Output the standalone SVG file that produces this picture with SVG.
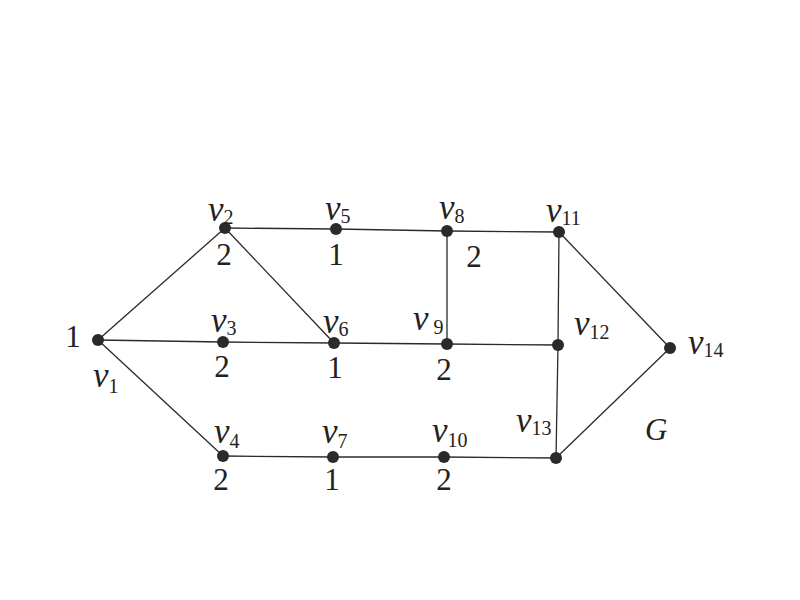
<svg xmlns="http://www.w3.org/2000/svg" width="800" height="600" viewBox="0 0 800 600">
<style>
.e{stroke:#2a2a2a;stroke-width:1.3;fill:none}
.n{fill:#2a2a2a}
.lb{font-family:"Liberation Serif","DejaVu Serif",serif;font-style:italic;font-size:35px;fill:#222}
.sb{font-size:20px;font-style:normal}
.w{font-family:"Liberation Serif","DejaVu Serif",serif;font-size:31px;fill:#222;text-anchor:middle}
</style>
<rect width="800" height="600" fill="#fff"/>
<g id="edges">
<line class="e" x1="98" y1="340" x2="225" y2="228"/>
<line class="e" x1="98" y1="340" x2="223" y2="342"/>
<line class="e" x1="98" y1="340" x2="223" y2="456"/>
<line class="e" x1="225" y1="228" x2="336" y2="229"/>
<line class="e" x1="336" y1="229" x2="447" y2="231"/>
<line class="e" x1="447" y1="231" x2="559" y2="232"/>
<line class="e" x1="225" y1="228" x2="334" y2="343"/>
<line class="e" x1="223" y1="342" x2="334" y2="343"/>
<line class="e" x1="334" y1="343" x2="447" y2="344"/>
<line class="e" x1="447" y1="344" x2="558" y2="345"/>
<line class="e" x1="447" y1="231" x2="447" y2="344"/>
<line class="e" x1="559" y1="232" x2="558" y2="345"/>
<line class="e" x1="558" y1="345" x2="556" y2="458"/>
<line class="e" x1="559" y1="232" x2="670" y2="348"/>
<line class="e" x1="556" y1="458" x2="670" y2="348"/>
<line class="e" x1="223" y1="456" x2="333" y2="457"/>
<line class="e" x1="333" y1="457" x2="444" y2="457"/>
<line class="e" x1="444" y1="457" x2="556" y2="458"/>
</g>
<g id="v1"><circle class="n" cx="98" cy="340" r="6"/><text class="w" x="73" y="347">1</text><text class="lb" x="93" y="387">v<tspan class="sb" dy="6">1</tspan></text></g>
<g id="v2"><circle class="n" cx="225" cy="228" r="6"/><text class="lb" x="208" y="221">v<tspan class="sb" dy="3">2</tspan></text><text class="w" x="224" y="265">2</text></g>
<g id="v3"><circle class="n" cx="223" cy="342" r="6"/><text class="lb" x="211" y="332">v<tspan class="sb" dy="3">3</tspan></text><text class="w" x="222" y="377">2</text></g>
<g id="v4"><circle class="n" cx="223" cy="456" r="6"/><text class="lb" x="214" y="443">v<tspan class="sb" dy="5">4</tspan></text><text class="w" x="221" y="490">2</text></g>
<g id="v5"><circle class="n" cx="336" cy="229" r="6"/><text class="lb" x="325" y="220">v<tspan class="sb" dy="3">5</tspan></text><text class="w" x="336" y="265">1</text></g>
<g id="v6"><circle class="n" cx="334" cy="343" r="6"/><text class="lb" x="323" y="333">v<tspan class="sb" dy="3">6</tspan></text><text class="w" x="335" y="378">1</text></g>
<g id="v7"><circle class="n" cx="333" cy="457" r="6"/><text class="lb" x="322" y="443">v<tspan class="sb" dy="5">7</tspan></text><text class="w" x="332" y="490">1</text></g>
<g id="v8"><circle class="n" cx="447" cy="231" r="6"/><text class="lb" x="439" y="219">v<tspan class="sb" dy="4">8</tspan></text><text class="w" x="474" y="267">2</text></g>
<g id="v9"><circle class="n" cx="447" cy="344" r="6"/><text class="lb" x="413" y="330">v<tspan class="sb" dx="5" dy="4">9</tspan></text><text class="w" x="444" y="380">2</text></g>
<g id="v10"><circle class="n" cx="444" cy="457" r="6"/><text class="lb" x="432" y="442">v<tspan class="sb" dy="5">10</tspan></text><text class="w" x="444" y="490">2</text></g>
<g id="v11"><circle class="n" cx="559" cy="232" r="6"/><text class="lb" x="546" y="222">v<tspan class="sb" dy="3">11</tspan></text></g>
<g id="v12"><circle class="n" cx="558" cy="345" r="6"/><text class="lb" x="574" y="335">v<tspan class="sb" dy="4">12</tspan></text></g>
<g id="v13"><circle class="n" cx="556" cy="458" r="6"/><text class="lb" x="516" y="432">v<tspan class="sb" dy="3">13</tspan></text></g>
<g id="v14"><circle class="n" cx="670" cy="348" r="6"/><text class="lb" x="688" y="354">v<tspan class="sb" dy="3">14</tspan></text></g>
<text class="lb" x="645" y="440" style="font-size:31px">G</text>
</svg>
